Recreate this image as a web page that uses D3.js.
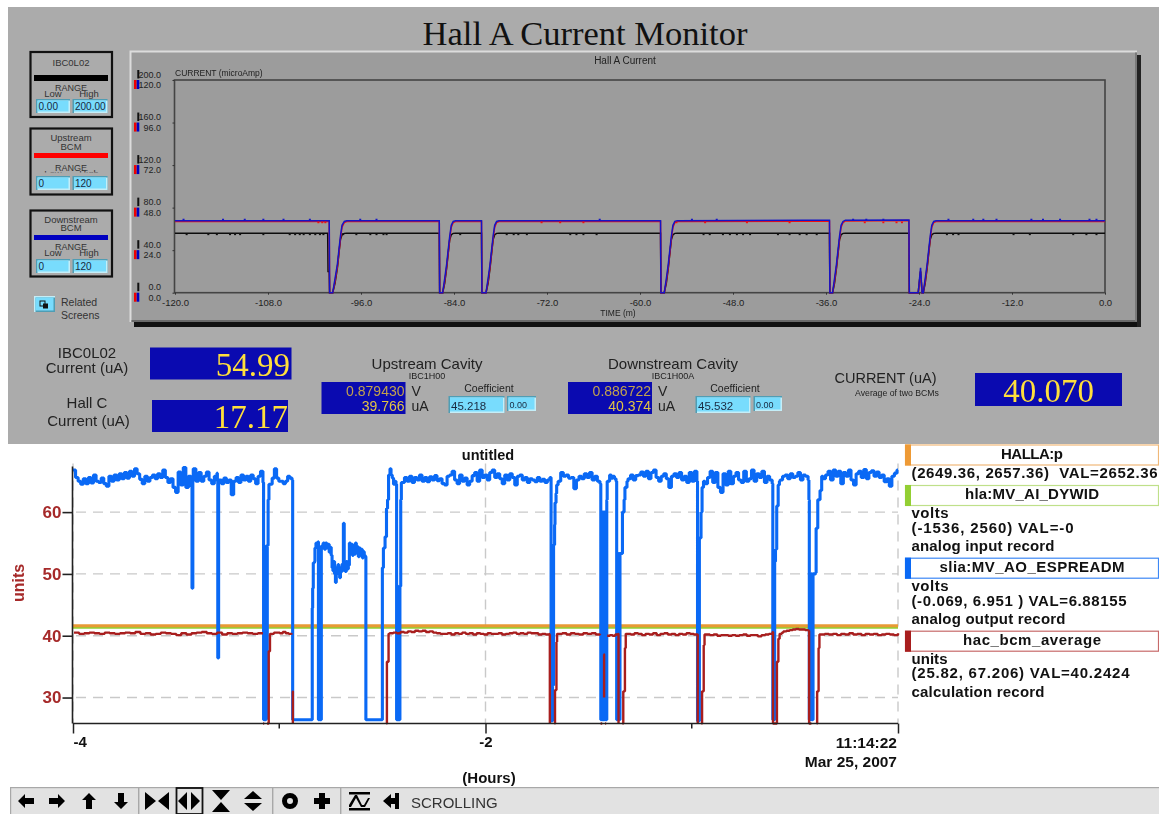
<!DOCTYPE html>
<html><head><meta charset="utf-8">
<script src="https://cdn.jsdelivr.net/npm/d3@7"></script>
<style>
html,body{margin:0;padding:0;background:#fff;overflow:hidden}
svg{display:block;filter:blur(0.35px)}
</style></head><body>
<svg id="c" width="1159" height="814"></svg>
<script>
// ---------- DATA: top strip chart (minutes, microamps) ----------
const topTitle = "Hall A Current";
const topYLabel = "CURRENT (microAmp)";
const topXLabel = "TIME (m)";
const topXTicks = [-120,-108,-96,-84,-72,-60,-48,-36,-24,-12,0];
const blackYTicks = [0,40,80,120,160,200];
const bcmYTicks = [0,24,48,72,96,120];
const topMinutes = [-120,-100.3,-100.25,-100.1,-100.05,-99.65,-99.35,-99.05,-98.85,-98.65,-98.45,-98.15,-97.85,
  -85.9,-85.85,-85.46,-85.2,-84.95,-84.75,-84.55,-84.35,-84.1,-83.8,
  -80.45,-80.4,-79.87,-79.6,-79.35,-79.15,-78.95,-78.75,-78.5,-78.2,
  -57.35,-57.3,-56.87,-56.6,-56.35,-56.15,-55.95,-55.75,-55.5,-55.2,
  -35.55,-35.5,-35.15,-34.9,-34.65,-34.45,-34.25,-34.05,-33.8,-33.5,
  -25.3,-25.25,-24.1,-23.8,-23.6,-23.45,-23.2,-22.95,-22.75,-22.55,-22.35,-22.1,-21.8,0];
const topDownstream = [40.6,40.6,40.6,40.6,0,0,8,16,24,32,38,40.2,40.6,
  40.6,0,0,8,16,24,32,38,40.2,40.6,
  40.6,0,0,8,16,24,32,38,40.2,40.6,
  40.6,0,0,8,16,24,32,38,40.2,40.6,
  40.9,0,0,8,16,24,32,38,40.2,40.9,
  41,0,0,14.1,0,0,8,16,24,32,38,40.2,40.6,40.6];
const topUpstream = [40.1,40.1,40.1,40.1,0,0,6.5,14.5,22.5,30.5,37,39.6,40.1,
  40.1,0,0,6.5,14.5,22.5,30.5,37,39.6,40.1,
  40.1,0,0,6.5,14.5,22.5,30.5,37,39.6,40.1,
  40.1,0,0,6.5,14.5,22.5,30.5,37,39.6,40.1,
  40.3,0,0,6.5,14.5,22.5,30.5,37,39.6,40.5,
  40.7,0,0,12,0,0,6.5,14.5,22.5,30.5,37,39.6,40.1,40.1];
const topIBC = [56,56,20,20,0,0,9,23,37,50,54.5,55.8,56,
  56,0,0,9,23,37,50,54.5,55.8,56,
  56,0,0,9,23,37,50,54.5,55.8,56,
  56,0,0,9,23,37,50,54.5,55.8,56,
  56,0,0,9,23,37,50,54.5,55.8,56,
  56,0,0,20,0,0,9,23,37,50,54.5,55.8,56,56];
const ibcSpeckMinutes = [-118.5,-115.7,-114.6,-112.9,-112.25,-111.6,-108.6,-105.2,-104.5,-103.9,-103.4,-102.6,-101.9,-101.3,-100.85,-98.3,-96.6,-94.8,-94,-93.1,-92.7,-83.2,-77.2,-76.3,-75.7,-74.6,-69,-68.2,-67.3,-65.6,-51.8,-51,-49.3,-48.4,-47.5,-46.7,-45.8,-42.2,-40.7,-39.4,-38.5,-37.2,-20.4,-19.6,-18.9,-11.8,-9.7,-4.1,-2.4,-1.1];
const downSpeckMinutes = [-118.9,-113.8,-111,-108.6,-106,-102.6,-96.1,-94,-65.2,-53.3,-50.1,-32.5,-30.8,-28.6,-20.2,-17,-15.7,-14,-9.5,-8,-5.8,-2,-1.1];
const upSpeckMinutes = [-101.5,-101,-100.6,-72.7,-70.3,-67.3,-55.3,-51.6,-46.2,-40.7,-31,-28.6,-26.9,-26.2];

// ---------- DATA: bottom history plot (hours, units) ----------
const plotTitle = "untitled";
const yTicks = [30,40,50,60];
const xMajor = [-4,-2,0];
const xMinor = [-3,-1];
const orangeTrace = [[-4,41.6],[0,41.6]];
const greenTrace = [[-4,41.35],[0,41.35]];
// evenly sampled stretches: [startHour, endHour, values]
const blueRuns = [
 [-4,-3.428,[66.8,65.6,65,64.5,65.4,64.6,65.6,64.7,66,65,64.8,65.5,64.6,64.2,65.8,65,66,65.2,66.2,65.4,66.4,65.5,66.6,65.8,67,66.2,65.3,64.6,65.8,65,65.6,66,65.4,66.2,65.6,66.8,65.6,64.8,65.4,64,63.2,66.5,64.4,67.2,64,65.8,64.2]],
 [-3.417,-3.302,[67,65,66.4,65,65.8,66.5,65.2,64.6,65.8,66.3]],
 [-3.292,-3.079,[65.2,64.6,65.5,64.8,65.2,62.8,65,65.6,64.8,66,65.2,65.8,65,66,65.4,64.6,65.8,66.6,64.8]],
 [-3.045,-2.938,[64.5,65.5,67,65.5,65,65,64.6,65,65.8,65.5,65.2]],
 [-2.822,-2.812,[55,54.4,55.2]],
 [-2.793,-2.752,[54.5,55,54,55,54.2,54.8,53.5,54.3]],
 [-2.748,-2.695,[53,51,50.5,52,50,48.6,51,50.8,51.5,50,49.4,51,50.4,51.6]],
 [-2.685,-2.665,[50.6,50.4,52,50.8,51.4]],
 [-2.66,-2.583,[55,53.5,54.8,53,54.5,53.2,55,53.6,54.4,52.8,54.2,53.4,54,52.6,53.6,53,52.8]],
 [-2.458,-2.434,[66,65.5,64.5,65,64.5]],
 [-2.405,-1.688,[64.8,65.6,65,65.8,64.8,65.6,65.2,66,65,65.6,64.9,65.7,65.2,65.9,65.1,65.4,64.6,64.4,65.8,66,66.6,65.2,64.6,66,65,65.5,64.4,65,65.9,66.4,65,66.8,65.6,66,65.2,66.4,66.8,65.6,66.2,65.4,64.6,66,65.2,66.2,65.6,64.4,65.8,66,65.2,65.6,64.8,65.4,65.2,64.9,65.6,65,65.3,64.8,65.2,65.6]],
 [-1.648,-1.445,[65,66.4,65.8,66,65.5,65.6,63.8,65.2,65.8,65.4,66.2,65.6,66.4,65.2,65.8,65,64.6]],
 [-1.406,-1.367,[65,66,65.5,65.8,65.4,65]],
 [-1.309,-0.975,[65.4,66,65.2,65.9,66,66.5,65.8,66.6,65.4,66.4,66.8,65.6,65,65.8,66.2,65.4,64,65.8,66.2,65.6,66.4,65.2,65.8,64.8,66.4,65,66.6,65]],
 [-0.936,-0.61,[64.6,65.6,66.6,64.8,66.4,64,63.2,66.2,64.4,66.6,64.6,65.8,66.4,65.2,64.8,66.6,65,65.4,66.8,65,66.2,65.6,66.6,64.8,65.8,65.2,64.6]],
 [-0.572,-0.436,[65.2,65.8,66,65.4,66.2,65.6,65.8,66.4,65.2,66,65.8,65.2]],
 [-0.364,-0.005,[65.4,66,66.6,65.2,66.8,65.8,66.6,64.6,66.4,65.8,66.8,65.2,64.4,66.2,66.6,65.6,66.9,65.4,66.4,66.7,65.8,66.5,65.6,66,64.9,65.4,64.2,65.8,66.3,66.8]]
];
const blueEvents = [
 [-3.425,65],[-3.423,47.7],[-3.421,47.7],[-3.419,65],
 [-3.3,65],[-3.298,36.4],[-3.296,36.4],[-3.294,65],
 [-3.076,26.4],[-3.072,26.4],[-3.069,54],[-3.067,26.4],[-3.064,54.5],[-3.062,26.6],[-3.058,54.6],[-3.056,54.6],[-3.054,62],[-3.05,64.5],
 [-2.935,26.4],[-2.843,26.4],[-2.84,44.5],[-2.838,47.7],[-2.835,51.8],[-2.829,52],[-2.827,54.2],
 [-2.81,26.4],[-2.806,54],[-2.803,26.4],[-2.799,26.4],[-2.796,54.5],
 [-2.689,58.2],
 [-2.58,26.4],[-2.502,26.4],[-2.5,51],[-2.497,51],[-2.495,54.2],[-2.487,56],[-2.48,60.6],[-2.475,62],[-2.47,66],[-2.463,67],
 [-2.431,26.4],[-2.428,26.4],[-2.425,48],[-2.423,26.4],[-2.42,26.4],[-2.415,48],[-2.411,62],[-2.408,64.8],
 [-1.682,26.2],[-1.679,54],[-1.677,26.2],[-1.675,54],[-1.673,32],[-1.67,54.7],[-1.665,58],[-1.663,61.5],[-1.658,63],[-1.655,64.4],
 [-1.441,26.4],[-1.438,59],[-1.435,26.4],[-1.432,60],[-1.429,26.4],[-1.426,60],[-1.423,26.4],[-1.42,60],[-1.417,26.4],[-1.414,26.4],[-1.412,62],[-1.41,65],
 [-1.364,26.4],[-1.36,53.3],[-1.357,26.4],[-1.354,53.3],[-1.351,26.4],[-1.348,53.3],[-1.336,60],[-1.328,62],[-1.324,64],[-1.314,65],
 [-0.972,26.2],[-0.969,55],[-0.966,26.2],[-0.963,55.8],[-0.96,55.8],[-0.955,60],[-0.95,64],[-0.943,65],
 [-0.607,26.4],[-0.604,51.9],[-0.601,26.4],[-0.598,52],[-0.594,54],[-0.588,61],[-0.581,64.4],[-0.575,65],
 [-0.432,62],[-0.43,26.4],[-0.425,26.4],[-0.42,50],[-0.416,26.4],[-0.412,50],[-0.405,50],[-0.4,50.2],[-0.397,57.4],[-0.389,62],[-0.378,63.5],[-0.37,65.8],
 [0,66.8]
];
const redRuns = [
 [-3.995,-3.079,[40.5,40.3,40.4,40.5,40.4,40.3,40.5,40.4,40.3,40.4,40.5,40.4,40.6,40.3,40.4,40.2,40.3,40.5,40.4,40.3,40.1,40.4,40.2,40.4,40.5,40.6,40.4,40.3,40.5,40.2,40.4,40.3,40.4,40.5,40.4,40.3,40.4,40.4]],
 [-3.04,-2.94,[40.3,40.5,40.5,40.4,40.6,40.4,40.3,40.2]],
 [-2.465,-1.691,[40.4,40.5,40.4,40.6,40.5,40.7,40.6,40.8,40.7,40.8,40.6,40.7,40.5,40.4,40.3,40.3,40.4,40.2,40.4,40.3,40.5,40.3,40.4,40.2,40.4,40.3,40.2,40.4,40.3,40.3,40.4,40.2,40.3,40.4,40.5,40.3,40.4,40.3,40.5,40.4,40.4,40.2,40.3,40.2,40.3]],
 [-1.648,-1.445,[40.3,40.4,40.2,40.4,40.3,40.2,40.4,40.3,40.4,40.2,40.3]],
 [-1.41,-1.358,[40,40.1,40,40.2,40.3]],
 [-1.314,-0.972,[40.3,40.2,40.4,40.3,40.1,40.3,40.2,40.4,40.1,40.3,40.4,40.2,40.3,40.1,40.3,40.2,40.4,40.3,40.2,40.2]],
 [-0.93,-0.608,[40.2,40.1,40.2,40,40.1,40.1,40,40.1,40,40.1,40.2,40,40.1,40.1,39.9,40.1,40.2,40.3,40.6]],
 [-0.556,-0.435,[40.7,40.8,40.9,41,41.1,41,41,40.9,40.8]],
 [-0.375,0,[40.2,40.3,40.2,40.3,40.1,40.3,40.2,40.4,40.2,40.3,40.1,40.3,40.2,40.3,40.1,40.2,40.3,40.2,40.1,40.4]]
];
const redEvents = [
 [-3.0785,NaN],[-3.078,25.8],[-3.073,25.8],[-3.071,NaN],[-3.059,25.8],[-3.052,25.8],[-3.051,37.5],[-3.047,37.5],[-3.045,40.3],
 [-2.939,NaN],[-2.936,31],[-2.934,25.8],[-2.933,NaN],
 [-2.48,25.8],[-2.478,35.8],[-2.473,35.8],[-2.47,40.3],
 [-1.69,40.2],[-1.688,25.8],[-1.687,NaN],[-1.665,25.8],[-1.663,31.2],[-1.658,31.2],[-1.656,39],[-1.653,40.3],
 [-1.444,NaN],[-1.442,25.8],[-1.434,25.8],[-1.433,NaN],[-1.427,37],[-1.425,30],[-1.424,NaN],[-1.42,25.8],[-1.415,25.8],[-1.4135,NaN],
 [-1.355,25.8],[-1.354,NaN],[-1.336,25.8],[-1.332,31],[-1.326,31],[-1.324,38],[-1.32,40.3],
 [-0.971,25.8],[-0.97,NaN],[-0.953,25.8],[-0.95,31],[-0.945,31],[-0.942,38.5],[-0.938,40.2],
 [-0.606,25.8],[-0.59,25.8],[-0.587,35.8],[-0.583,35.8],[-0.58,39.5],[-0.574,40.3],[-0.563,40.5],
 [-0.431,25.8],[-0.42,25.8],[-0.419,NaN],[-0.394,25.8],[-0.392,31],[-0.388,31],[-0.385,38],[-0.381,40.2]
];
const legendEntries = [
 {name:"HALLA:p", color:"#ee9a35", edge:"#f0b878", lines:["(2649.36, 2657.36)  VAL=2652.36"]},
 {name:"hla:MV_AI_DYWID", color:"#93cf33", edge:"#bfe08a", lines:["volts","(-1536, 2560) VAL=-0","analog input record"]},
 {name:"slia:MV_AO_ESPREADM", color:"#0a69f5", edge:"#3d88f5", lines:["volts","(-0.069, 6.951 ) VAL=6.88155","analog output record"]},
 {name:"hac_bcm_average", color:"#a81e1e", edge:"#c76a6a", lines:["units","(25.82, 67.206) VAL=40.2424","calculation record"]}
];

// ---------- helpers ----------
const SANS = '"Liberation Sans",Arial,sans-serif';
const SERIF = '"Liberation Serif","Times New Roman",serif';
const svg = d3.select("#c").style("font-family",SANS);
const T = (g,s,x,y,size,o={}) => g.append("text").text(s).attr("x",x).attr("y",y)
  .attr("font-size",size).attr("fill",o.fill||"#222").attr("text-anchor",o.a||"start")
  .attr("font-weight",o.w||"normal").style("font-family",o.f||SANS).style("white-space","pre")
  .attr("textLength",o.len||null);
const R = (g,x,y,w,h,fill,o={}) => g.append("rect").attr("x",x).attr("y",y).attr("width",w).attr("height",h)
  .attr("fill",fill).attr("stroke",o.stroke||"none").attr("stroke-width",o.sw||0);
const expand = (runs,events) => {
  const pts = events.slice();
  runs.forEach(([a,b,vals]) => vals.forEach((v,i) => pts.push([a+(b-a)*i/(vals.length-1),v])));
  return pts.sort((p,q)=>p[0]-q[0]);
};
function field(g,x,y,w,h,label,size){
  R(g,x,y,w,h,"#4f9db4");
  R(g,x+1.5,y+1.5,w-1.5,h-1.5,"#c4eef8");
  R(g,x+1.5,y+1.5,w-3,h-3,"#78dcfd");
  T(g,label,x+2.5,y+h-3.5,size||10.5,{fill:"#1a2a40"});
}

// ---------- top panel ----------
const panel = svg.append("g").attr("id","panel");
R(panel,8,7,1151,437,"#ababab");
T(panel,"Hall A Current Monitor",585,45,34.5,{a:"middle",f:SERIF,fill:"#111"});

// range widgets
[
 {y:52,h:65,labels:[["IBC0L02",66]],bar:[75,6,"#000"],range:91,lh:97,mask:null,field:99,lo:"0.00",hi:"200.00"},
 {y:128.5,h:66,labels:[["Upstream",141],["BCM",150]],bar:[153,5,"#ff0000"],range:170.5,lh:177,mask:172.5,field:176,lo:"0",hi:"120"},
 {y:210.5,h:66,labels:[["Downstream",222.5],["BCM",230.5]],bar:[235,5,"#0000c0"],range:250,lh:256,mask:null,field:259,lo:"0",hi:"120"}
].forEach(b=>{
  const g=panel.append("g");
  R(g,30.5,b.y,81.5,b.h,"none",{stroke:"#111",sw:2.2});
  b.labels.forEach(([s,y])=>T(g,s,71,y,9.5,{a:"middle",fill:"#333"}));
  R(g,34,b.bar[0],74,b.bar[1],b.bar[2]);
  T(g,"Low",53,b.lh,9.5,{a:"middle",fill:"#333"});
  T(g,"High",89,b.lh,9.5,{a:"middle",fill:"#333"});
  if(b.mask) R(g,33,b.mask,76,b.field-b.mask,"#ababab");
  T(g,"RANGE",71,b.range,9,{a:"middle",fill:"#333"});
  field(g,36,b.field,34,14,b.lo,10);
  field(g,72.5,b.field,35,14,b.hi,10);
});
// related screens
R(panel,34,296,21,16,"#c4eef8");R(panel,35.5,297.5,19.5,14.5,"#4f9db4");R(panel,35.5,297.5,18,13,"#78dcfd");
R(panel,40,301,5,5,"none",{stroke:"#111",sw:1});R(panel,43,303.5,5,5,"#111");
T(panel,"Related",61,305.5,10.5,{fill:"#333"});
T(panel,"Screens",61,319,10.5,{fill:"#333"});

// strip chart frame
R(panel,134,322,1007,5,"#111");
R(panel,1137,55,4,272,"#222");
R(panel,129.5,50.5,1007.5,271.5,"#dcdcdc");
R(panel,131.5,52.5,1005.5,269.5,"#9c9c9c");
R(panel,131.5,320,1005.5,2,"#6a6a6a");
R(panel,1135,52.5,2,269,"#7a7a7a");

const tx = d3.scaleLinear().domain([-120,0]).range([175,1105]);
const yBlack = d3.scaleLinear().domain([0,200]).range([292.7,80]);
const yBcm = d3.scaleLinear().domain([0,120]).range([292.7,80]);
const strip = panel.append("g");
R(strip,174.5,80,930.5,212.7,"none",{stroke:"#444",sw:1.6});
const sty = (sel,fs)=>{sel.selectAll("text").attr("font-size",fs).attr("fill","#222").attr("font-family",null);
  sel.selectAll("line").attr("stroke","#333");sel.select(".domain").attr("stroke","none");};
const hy = d3.format(".1f");
strip.append("g").attr("transform","translate(0,292.7)")
  .call(d3.axisBottom(tx).tickValues(topXTicks).tickSize(2).tickPadding(5).tickFormat(d=>hy(d).replace("\u2212","-")))
  .call(sty,9.5);
strip.append("g").attr("transform","translate(161,-5.7)")
  .call(d3.axisLeft(yBlack).tickValues(blackYTicks).tickSize(0).tickPadding(0).tickFormat(hy)).call(sty,9);
strip.append("g").attr("transform","translate(161,4.6)")
  .call(d3.axisLeft(yBcm).tickValues(bcmYTicks).tickSize(0).tickPadding(0).tickFormat(hy)).call(sty,9);
strip.append("g").attr("transform","translate(174.5,0)")
  .call(d3.axisLeft(yBcm).tickValues(bcmYTicks).tickSize(2).tickFormat("")).call(sty,9);
strip.append("g").selectAll("rect").data(blackYTicks).join("rect").attr("x",137.3).attr("width",2)
  .attr("y",d=>yBlack(d)-10).attr("height",8.5).attr("fill","#111");
strip.append("g").selectAll("rect").data(bcmYTicks).join("rect").attr("x",134).attr("width",2.6)
  .attr("y",d=>yBcm(d)).attr("height",9).attr("fill","#f00000");
strip.append("g").selectAll("rect").data(bcmYTicks).join("rect").attr("x",136.7).attr("width",2.6)
  .attr("y",d=>yBcm(d)).attr("height",9).attr("fill","#0000c0");
T(strip,topYLabel,175,76,8.5,{fill:"#222"});
T(strip,topTitle,625,64,10,{a:"middle",fill:"#222"});
T(strip,topXLabel,618,316,8.5,{a:"middle",fill:"#222"});

const lineOf=(ys,s)=>d3.line().x((d,i)=>tx(topMinutes[i])).y((d,i)=>s(ys[i]))(topMinutes);
[[topIBC,yBlack,"#0c0c0c",1.5],[topUpstream,yBcm,"#f01010",1.5],[topDownstream,yBcm,"#1414c8",1.5]].forEach(([ys,s,c,w])=>{
  strip.append("path").attr("d",lineOf(ys,s)).attr("fill","none").attr("stroke",c).attr("stroke-width",w);
});
strip.append("g").selectAll("rect").data(ibcSpeckMinutes).join("rect").attr("x",d=>tx(d)-1).attr("y",yBlack(56)).attr("width",2).attr("height",2).attr("fill","#111");
strip.append("g").selectAll("rect").data(downSpeckMinutes).join("rect").attr("x",d=>tx(d)-1).attr("y",yBcm(40.6)-2).attr("width",2).attr("height",1.6).attr("fill","#1414c8");
strip.append("g").selectAll("rect").data(upSpeckMinutes).join("rect").attr("x",d=>tx(d)-1).attr("y",yBcm(40.1)).attr("width",2).attr("height",1.6).attr("fill","#f01010");

// readouts
const BOX="#0a0ab0", GOLD="#ffdf3c";
R(panel,150,347.5,141.5,32,BOX);
R(panel,152,400,136,32,BOX);
R(panel,975,373,147,33,BOX);
T(panel,"54.99",290,376,33,{a:"end",f:SERIF,fill:GOLD});
T(panel,"17.17",288,428,33,{a:"end",f:SERIF,fill:GOLD});
T(panel,"40.070",1048.5,402,33,{a:"middle",f:SERIF,fill:GOLD});
T(panel,"IBC0L02",87,358,15,{a:"middle"});
T(panel,"Current (uA)",87,373,15,{a:"middle"});
T(panel,"Hall C",87,408,15,{a:"middle"});
T(panel,"Current (uA)",88.5,426,15,{a:"middle"});
[
 {t:"Upstream Cavity",c:427,sub:"IBC1H00",bx:321.5,v1:"0.879430",v2:"39.766",coef:489,f1:448.5,f1w:56,coefv:"45.218",f2:507,f2w:29},
 {t:"Downstream Cavity",c:673,sub:"IBC1H00A",bx:568,v1:"0.886722",v2:"40.374",coef:735,f1:695.5,f1w:55,coefv:"45.532",f2:753.5,f2w:28.5}
].forEach(c=>{
  T(panel,c.t,c.c,369,15,{a:"middle"});
  T(panel,c.sub,c.c,379,9,{a:"middle"});
  R(panel,c.bx,382,84,32,BOX);
  T(panel,c.v1,c.bx+83,396,14,{a:"end",fill:"#c2a24e"});
  T(panel,c.v2,c.bx+83,411,14,{a:"end",fill:"#e2c444"});
  T(panel,"V",c.bx+90,396,14);
  T(panel,"uA",c.bx+90,411,14);
  T(panel,"Coefficient",c.coef,392,10.5,{a:"middle"});
  field(panel,c.f1,396,c.f1w,17,c.coefv,11.5);
  field(panel,c.f2,396,c.f2w,15,"0.00",9);
});
T(panel,"CURRENT (uA)",885.5,383,14.5,{a:"middle"});
T(panel,"Average of two BCMs",897,396,8.7,{a:"middle"});

// ---------- bottom plot ----------
const plot = svg.append("g").attr("id","plot");
const x = d3.scaleLinear().domain([-4,0]).range([73,898]);
const y = d3.scaleLinear().domain([25.8,67.2]).range([723.5,467.6]);
const yTop = y.range()[1], yBot = y.range()[0];
const DASH="10,7";
plot.append("g").selectAll("line").data(yTicks).join("line")
  .attr("x1",x(-4)+3).attr("x2",x(0)).attr("y1",d=>y(d)).attr("y2",d=>y(d))
  .attr("stroke","#c9c9c9").attr("stroke-width",1.4).attr("stroke-dasharray",DASH);
const vline = d3.line();
plot.append("g").selectAll("path").data(xMajor).join("path")
  .attr("d",d=>vline([[x(d),yTop-4],[x(d),yBot]]))
  .attr("stroke","#c9c9c9").attr("stroke-width",1.4).attr("stroke-dasharray",DASH).attr("fill","none");

const ln = d3.line().defined(d=>!isNaN(d[1])).x(d=>x(d[0])).y(d=>y(d[1])).curve(d3.curveStepAfter);
const draw=(pts,c,w)=>plot.append("path").datum(pts).attr("d",ln).attr("fill","none")
  .attr("stroke",c).attr("stroke-width",w).attr("stroke-linejoin","bevel");
draw(greenTrace,"#93cf33",2.6);
draw(orangeTrace,"#e89a35",3);
draw(expand(blueRuns,blueEvents),"#0a69f5",3.1);
draw(expand(redRuns,redEvents),"#a81e1e",2.4);

// axes
const yAx = plot.append("g").attr("transform",`translate(${x(-4)-0.5},0)`)
  .call(d3.axisLeft(y).tickValues(yTicks).tickSize(10).tickPadding(1).tickFormat(d3.format("d")));
yAx.selectAll("text").attr("font-size",17).attr("font-weight","bold").attr("fill","#a62a2a").attr("font-family",null);
yAx.selectAll("line").attr("stroke","#222").attr("stroke-width",1.6);
yAx.select(".domain").attr("stroke","#222").attr("stroke-width",1.6).attr("d",`M0,${yTop-1}V${yBot}`);
const xAx = plot.append("g").attr("transform",`translate(0,${yBot})`)
  .call(d3.axisBottom(x).tickValues(xMajor).tickSize(10).tickPadding(3).tickFormat(d=>d===0?"":d3.format("d")(d).replace("\u2212","-")));
xAx.selectAll("text").attr("font-size",15).attr("font-weight","bold").attr("fill","#111").attr("font-family",null);
xAx.select(".tick text").attr("text-anchor","start");
xAx.selectAll("line").attr("stroke","#222").attr("stroke-width",1.5);
xAx.select(".domain").attr("stroke","#222").attr("stroke-width",1.5).attr("d",`M${x(-4)},0H${x(0)}`);
plot.append("g").selectAll("line").data(xMinor).join("line")
  .attr("x1",d=>x(d)).attr("x2",d=>x(d)).attr("y1",yBot).attr("y2",yBot+5).attr("stroke","#222").attr("stroke-width",1.5);

T(plot,plotTitle,488,460,14.5,{a:"middle",w:"bold",fill:"#111"});
T(plot,"11:14:22",897,748,15.5,{a:"end",w:"bold",fill:"#111"});
T(plot,"Mar 25, 2007",897,766.5,15.5,{a:"end",w:"bold",fill:"#111"});
T(plot,"(Hours)",489,783,15,{a:"middle",w:"bold",fill:"#111"});
plot.append("text").text("units").attr("transform","translate(23.5,583) rotate(-90)")
  .attr("text-anchor","middle").attr("font-size",16).attr("font-weight","bold").attr("fill","#a62a2a");

// legend
const legendLayout = [
 {y:444.5,nameLen:62,base:[478],len:[246]},
 {y:485,nameLen:134,base:[518,533,551],len:[37,162,143]},
 {y:557.7,nameLen:185,base:[591,606,624],len:[37,215,154]},
 {y:630.7,nameLen:138,base:[664,678,697],len:[36,218,133]}
];
legendEntries.forEach((e,i)=>{
  const l=legendLayout[i];
  R(plot,905.5,l.y+0.5,253,20,"#fff",{stroke:e.edge,sw:1.2});
  R(plot,905,l.y,6,21,e.color);
  T(plot,e.name,1032,l.y+14,15,{a:"middle",w:"bold",fill:"#111",len:l.nameLen});
  e.lines.forEach((s,j)=>T(plot,s,911.5,l.base[j],15,{w:"bold",fill:"#111",len:l.len[j]}));
});

// ---------- toolbar ----------
const tb = svg.append("g").attr("id","toolbar");
R(tb,10,787,1149,27,"#e2e2e2");
R(tb,10,787,1149,1.2,"#a8a8a8");
R(tb,10,787,1.2,27,"#a8a8a8");
[138,272,340].forEach(v=>R(tb,v,787,1.4,27,"#a8a8a8"));
const icons = {
 left:"M-8,0L-1,-7V-3H8V3H-1V7Z", right:"M8,0L1,-7V-3H-8V3H1V7Z",
 up:"M0,-8L-7,-1H-3V8H3V-1H7Z", down:"M0,8L-7,1H-3V-8H3V1H7Z",
 inH:"M-12,-9L-1,0L-12,9ZM12,-9L1,0L12,9Z", outH:"M-2,-9L-11,0L-2,9ZM2,-9L11,0L2,9Z",
 inV:"M-9,-11H9L0,-1ZM-9,11H9L0,1Z", outV:"M-9,-2L0,-10L9,-2ZM-9,2L0,10L9,2Z",
 plus:"M-3,-8H3V-3H8V3H3V8H-3V3H-8V-3H-3Z",
 wave:"M-10,-9H11V-6.5H-10ZM-10,7H11V9.5H-10ZM-10,4L-4,-6H-2L3,4H5L9,-3L11,-3L6,6H2L-3,-3L-8,6H-10Z",
 back:"M-8,0L0,-7V-3H4V-8H8V8H4V3H0V7Z"
};
[["left",26],["right",57],["up",89],["down",121],["inH",157],["outH",189],["inV",221],["outV",253],["plus",322],["wave",359],["back",391]]
 .forEach(([k,cx])=>tb.append("path").attr("d",icons[k]).attr("transform",`translate(${cx},801)`).attr("fill","#000"));
tb.append("circle").attr("cx",290).attr("cy",801).attr("r",5.5).attr("fill","none").attr("stroke","#000").attr("stroke-width",5);
R(tb,176.5,788,26,26,"none",{stroke:"#111",sw:1.8});
T(tb,"SCROLLING",411,808,15,{fill:"#333"});
</script>
</body></html>
